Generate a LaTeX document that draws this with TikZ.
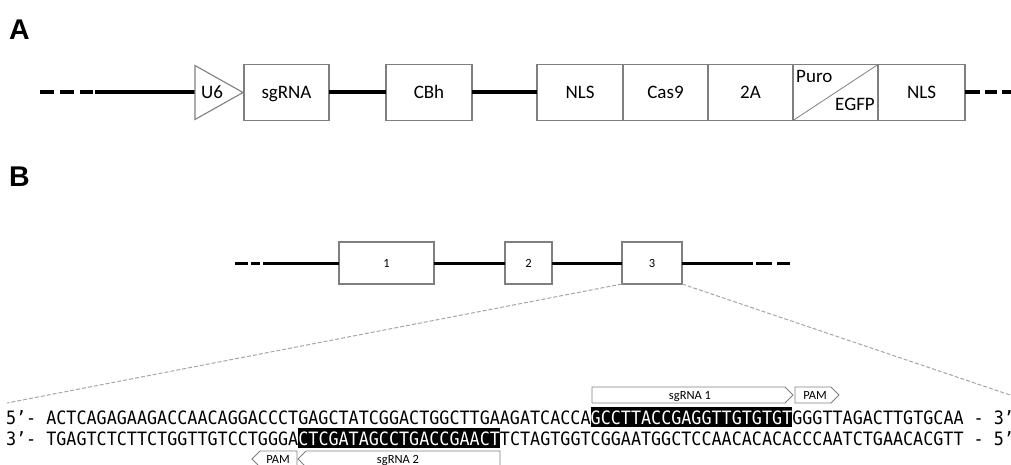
\documentclass[tikz,border=0pt]{standalone}
\usepackage{fontspec}
\setmainfont{Carlito}
\newfontfamily\seqfont[FakeStretch=0.91]{DejaVu Sans Mono}
\newfontfamily\panelfont{Liberation Sans}
\usetikzlibrary{positioning}

\definecolor{edgegray}{HTML}{7F7F7F}
\definecolor{zoomgray}{HTML}{A6A6A6}

\tikzset{
  part/.style={draw=edgegray, line width=1.1pt, minimum height=56pt, inner sep=0pt, outer sep=0pt,
    text height=12.5pt, text depth=0pt, font=\fontsize{19}{19}\selectfont},
  exon/.style={draw=edgegray, line width=1.1pt, minimum height=42pt, inner sep=0pt, outer sep=0pt,
    font=\fontsize{12.5}{12.5}\selectfont},
  backbone/.style={line width=4pt},
  intron/.style={line width=3pt},
  seq/.style={inner sep=0pt, outer sep=0pt, text height=17.5pt, text depth=2.5pt,
    font=\seqfont\fontsize{18.4}{18.4}\selectfont},
  hl/.style={fill=black, text=white},
  tag/.style={draw=edgegray, line width=0.8pt},
  taglabel/.style={inner sep=0pt, text height=8pt, text depth=0pt, font=\fontsize{12.5}{12.5}\selectfont},
  zoomline/.style={zoomgray, line width=1pt, dash pattern=on 4pt off 2pt},
  panel/.style={anchor=base west, inner sep=0pt, font=\panelfont\bfseries\fontsize{28.5}{28.5}\selectfont}
}

\begin{document}
\begin{tikzpicture}[x=1pt, y=-1pt]
  \useasboundingbox (0,0) rectangle (1011,465);

  % A
  \node[panel] (labA) at (9,40) {A};

  \coordinate (dashA) at (40,92.5);
  \coordinate (dashAend) at (93,92.5);
  \coordinate (solidA) at (94.5,92.5);
  \coordinate (u6base) at (195,92.5);
  \draw[backbone, dash pattern=on 14pt off 6pt] (dashA) -- (dashAend);
  \draw[backbone] (solidA) -- (u6base);
  \draw[edgegray, line width=1.1pt] (195,65.5) -- (243,92.5) -- (195,119.5) -- cycle;
  \node[inner sep=0pt, text height=12.5pt, text depth=0pt, font=\fontsize{19}{19}\selectfont] (u6) at (212,92.5) {U6};

  \node[part, minimum width=85pt, anchor=west] (sgrna) at (244,92.5) {sgRNA};
  \node[part, minimum width=86pt, anchor=west] (cbh) at (386,92.5) {CBh};
  \node[part, minimum width=86pt, anchor=west] (nlsa) at (537,92.5) {NLS};
  \node[part, minimum width=85pt, right=0pt of nlsa] (cas9) {Cas9};
  \node[part, minimum width=85pt, right=0pt of cas9] (twoa) {2A};
  \node[part, minimum width=85pt, right=0pt of twoa] (puro) {};
  \node[part, minimum width=87pt, right=0pt of puro] (nlsb) {NLS};

  \draw[backbone] (sgrna.east) -- (cbh.west);
  \draw[backbone] (cbh.east) -- (nlsa.west);

  \draw[edgegray, line width=0.8pt] (puro.south west) -- (puro.north east);
  \node[anchor=base west, inner sep=0pt, font=\fontsize{19}{19}\selectfont] (purolab) at (796,83) {Puro};
  \node[anchor=base east, inner sep=0pt, font=\fontsize{19}{19}\selectfont] (egfplab) at (875,110.5) {EGFP};

  \coordinate (endA) at (980,92.5);
  \coordinate (dashA2) at (985,92.5);
  \coordinate (outA) at (1016,92.5);
  \draw[backbone] (nlsb.east) -- (endA);
  \draw[backbone, dash pattern=on 12pt off 5pt] (dashA2) -- (outA);

  % B
  \node[panel] (labB) at (9,186) {B};

  \node[exon, minimum width=95pt, anchor=west] (ex1) at (339,263) {1};
  \node[exon, minimum width=47pt, anchor=west] (ex2) at (505,263) {2};
  \node[exon, minimum width=60pt, anchor=west] (ex3) at (622,263) {3};

  \coordinate (dashB) at (235,263);
  \coordinate (dashBend) at (260,263);
  \coordinate (solidB) at (263,263);
  \coordinate (endB) at (753,263);
  \coordinate (dashB2) at (756,263);
  \coordinate (outB) at (790,263);
  \draw[intron, dash pattern=on 13pt off 3pt] (dashB) -- (dashBend);
  \draw[intron] (solidB) -- (ex1.west);
  \draw[intron] (ex1.east) -- (ex2.west);
  \draw[intron] (ex2.east) -- (ex3.west);
  \draw[intron] (ex3.east) -- (endB);
  \draw[intron, dash pattern=on 16pt off 5pt] (dashB2) -- (outB);

  \coordinate (zoomL) at (7,403);
  \coordinate (zoomR) at (1013,396);
  \draw[zoomline] (ex3.south west) -- (zoomL);
  \draw[zoomline] (ex3.south east) -- (zoomR);

  \node[seq, anchor=base west] (top5) at (6,424) {5’- ACTCAGAGAAGACCAACAGGACCCTGAGCTATCGGACTGGCTTGAAGATCACCA};
  \node[seq, hl, right=0pt of top5] (site1) {GCCTTACCGAGGTTGTGTGT};
  \node[seq, right=0pt of site1] (top3) {GGGTTAGACTTGTGCAA - 3’};

  \node[seq, anchor=base west] (bot3) at (6,445) {3’- TGAGTCTCTTCTGGTTGTCCTGGGA};
  \node[seq, hl, right=0pt of bot3] (site2) {CTCGATAGCCTGACCGAACT};
  \node[seq, right=0pt of site2] (bot5) {TCTAGTGGTCGGAATGGCTCCAACACACACCCAATCTGAACACGTT - 5’};

  \draw[tag] (592,387) -- (785,387) -- (793,395) -- (785,403) -- (592,403) -- cycle;
  \node[taglabel] (guide1) at (690,395) {sgRNA 1};
  \draw[tag] (795,387) -- (831,387) -- (839,395) -- (831,403) -- (795,403) -- cycle;
  \node[taglabel] (pam1) at (815,395) {PAM};

  \draw[tag] (252,459) -- (260,451) -- (297,451) -- (297,467) -- (260,467) -- cycle;
  \node[taglabel] (pam2) at (278,459) {PAM};
  \draw[tag] (298,459) -- (306,451) -- (500,451) -- (500,467) -- (306,467) -- cycle;
  \node[taglabel] (guide2) at (398,459) {sgRNA 2};
\end{tikzpicture}
\end{document}
